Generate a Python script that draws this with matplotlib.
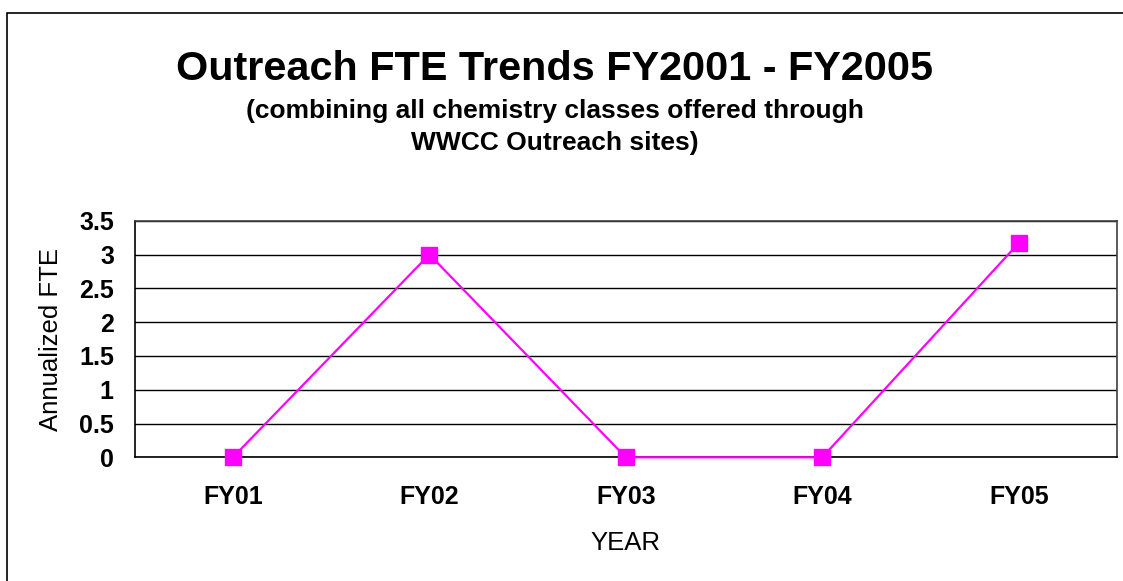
import matplotlib
matplotlib.use("Agg")
import matplotlib.pyplot as plt
from matplotlib.patches import Rectangle

plt.rcParams['font.family'] = ['Liberation Sans', 'DejaVu Sans']

# data
years = ['FY01', 'FY02', 'FY03', 'FY04', 'FY05']
fte = [0, 3.0, 0, 0, 3.17]
yticks = [0, 0.5, 1, 1.5, 2, 2.5, 3, 3.5]
ytick_labels = ['0', '0.5', '1', '1.5', '2', '2.5', '3', '3.5']

W, H = 1123, 581
fig = plt.figure(figsize=(W / 100, H / 100), dpi=100)
fig.patch.set_facecolor('white')

# outer chart frame (cut off at right and bottom like the original)
fig.patches.append(Rectangle((7 / W, -0.05), 1.2, 1 - 13 / H + 0.05,
                             transform=fig.transFigure, fill=False,
                             edgecolor='black', linewidth=1.2))

ax = fig.add_axes([134.7 / W, 1 - 457.3 / H, 982.3 / W, 236.6 / H])

x = list(range(len(years)))
ax.plot(x, fte, color='#FF00FF', linewidth=1.6, marker='s', markersize=11,
        markerfacecolor='#FF00FF', markeredgecolor='#FF00FF', zorder=3,
        clip_on=False)

ax.set_xlim(-0.5, len(years) - 0.5)
ax.set_ylim(0, 3.5)
ax.set_yticks(yticks)
ax.set_yticklabels(ytick_labels, fontsize=18, fontweight='bold')
ax.set_xticks(x)
ax.set_xticklabels(years, fontsize=18, fontweight='bold')
ax.tick_params(axis='y', length=0, pad=15)
ax.tick_params(axis='x', length=0, pad=20)

ax.grid(True, axis='y', color='black', linewidth=1)
ax.set_axisbelow(True)
for side in ['left', 'bottom']:
    ax.spines[side].set_color('black')
    ax.spines[side].set_linewidth(1.2)
for side in ['top', 'right']:
    ax.spines[side].set_color('#404040')
    ax.spines[side].set_linewidth(1.2)

ax.set_xlabel('YEAR', fontsize=18.5, va='center')
ax.xaxis.set_label_coords(0.5, (457.3 - 542.5) / 236.6)
ax.set_ylabel('Annualized FTE', fontsize=18.5, va='center')
ax.yaxis.set_label_coords((51 - 134.7) / 982.3, 0.5)

cx = 555 / W
fig.text(cx, 1 - 80 / H, 'Outreach FTE Trends FY2001 - FY2005', ha='center',
         va='baseline', fontsize=29.8, fontweight='bold')
fig.text(cx, 1 - 118 / H, '(combining all chemistry classes offered through',
         ha='center', va='baseline', fontsize=19, fontweight='bold')
fig.text(cx, 1 - 150 / H, 'WWCC Outreach sites)', ha='center', va='baseline',
         fontsize=19, fontweight='bold')

fig.savefig('out.png', dpi=100)
